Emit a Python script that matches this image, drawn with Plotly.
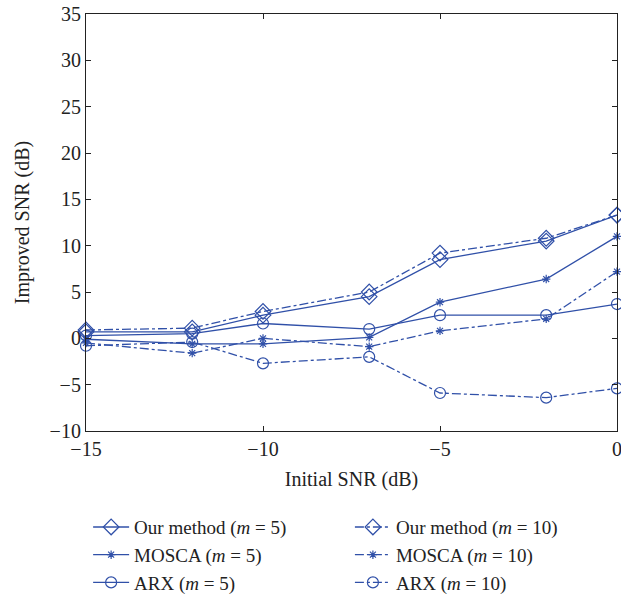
import plotly.graph_objects as go

# Initial SNR values (dB)
initial_snr = [-15, -12, -10, -7, -5, -2, 0]

# Improved SNR (dB) for each method
our_m5 = [0.7, 0.7, 2.5, 4.5, 8.5, 10.5, 13.3]
our_m10 = [0.9, 1.1, 2.9, 5.0, 9.2, 10.8, 13.3]
mosca_m5 = [-0.1, -0.6, -0.6, 0.1, 3.9, 6.4, 11.0]
mosca_m10 = [-0.5, -1.6, 0.0, -0.9, 0.8, 2.1, 7.2]
arx_m5 = [0.3, 0.5, 1.6, 1.0, 2.5, 2.5, 3.7]
arx_m10 = [-0.8, -0.4, -2.7, -2.0, -5.9, -6.4, -5.4]

blue = "#3050a8"
ink = "#222222"
font = "Liberation Serif"

series = [
    ("Our method (<i>m</i> = 5)", our_m5, "diamond-open", 12, "solid", "legend"),
    ("MOSCA (<i>m</i> = 5)", mosca_m5, "asterisk-open", 7, "solid", "legend"),
    ("ARX (<i>m</i> = 5)", arx_m5, "circle-open", 11, "solid", "legend"),
    ("Our method (<i>m</i> = 10)", our_m10, "diamond-open", 12, "dashdot", "legend2"),
    ("MOSCA (<i>m</i> = 10)", mosca_m10, "asterisk-open", 7, "dashdot", "legend2"),
    ("ARX (<i>m</i> = 10)", arx_m10, "circle-open", 11, "dashdot", "legend2"),
]

fig = go.Figure()
for name, ys, sym, size, dash, leg in series:
    fig.add_trace(go.Scatter(
        x=initial_snr, y=ys, name=name, mode="lines+markers",
        line=dict(color=blue, width=1.3, dash=dash),
        marker=dict(symbol=sym, size=size, color=blue,
                    line=dict(color=blue, width=1.2)),
        legend=leg, cliponaxis=False,
    ))

axis_common = dict(
    showline=True, linecolor=ink, linewidth=1.2, mirror="ticks",
    ticks="inside", ticklen=5, tickcolor=ink, tickwidth=1.2,
    showgrid=False, zeroline=False, ticklabeloverflow="allow",
    tickfont=dict(family=font, size=20, color=ink),
)

legend_common = dict(
    orientation="v", yanchor="top", xanchor="left", yref="container",
    bgcolor="rgba(0,0,0,0)", tracegroupgap=0, itemwidth=36,
    font=dict(family=font, size=19, color=ink),
)

fig.update_layout(
    width=621, height=595,
    margin=dict(l=86, r=4, t=14, b=164, autoexpand=False),
    plot_bgcolor="white", paper_bgcolor="white",
    xaxis=dict(range=[-15, 0], tickmode="array", tickvals=[-15, -10, -5, 0],
               ticktext=["\u221215", "\u221210", "\u22125", "0"],
               title=dict(text="Initial SNR (dB)", font=dict(family=font, size=20, color=ink), standoff=12),
               **axis_common),
    yaxis=dict(range=[-10, 35], tickmode="array", tickvals=list(range(-10, 40, 5)),
               ticktext=["\u221210", "\u22125"] + [str(v) for v in range(0, 40, 5)],
               title=dict(text="Improved SNR (dB)", font=dict(family=font, size=20, color=ink), standoff=14),
               **axis_common),
    legend=dict(x=0.004, y=0.146, **legend_common),
    legend2=dict(x=0.497, y=0.146, **legend_common),
)

fig.write_html("out.html")
